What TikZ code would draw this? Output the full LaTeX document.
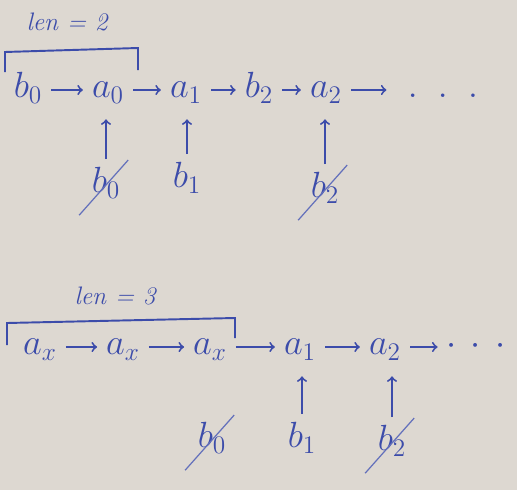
\documentclass[tikz,border=0pt]{standalone}
\usepackage{tikz}
\usetikzlibrary{calc}
\usetikzlibrary{arrows}
\definecolor{paper}{RGB}{221,216,209}
\definecolor{ink}{RGB}{60,76,170}
\tikzset{
    elem/.style={text=ink, font=\huge, inner sep=3pt, text height=14pt, text depth=5pt},
    link/.style={draw=ink, line width=1.1pt, ->, >=to, shorten <=2pt, shorten >=2pt},
    up/.style={draw=ink, line width=1.1pt, ->, >=to, shorten <=2pt, shorten >=4pt},
    strike/.style={draw=ink!80, line width=0.7pt, shorten <=-6pt, shorten >=-2pt},
    bracket/.style={draw=ink, line width=1.1pt},
    lenlabel/.style={text=ink, font=\Large\itshape}
}

\begin{document}
\begin{tikzpicture}[x=0.02cm, y=-0.02cm]
            \fill[paper] (0,0) rectangle (517,490);
            \useasboundingbox (0,0) rectangle (517,490);
            % first chain
            \node[lenlabel] (len2) at (67,22) {len = 2};
            \draw[bracket] (5,72) -- (5,52) -- (138,48) -- (138,70);
            \node[elem] (b0) at (28,90) {$b_0$};
            \node[elem] (a0) at (108,90) {$a_0$};
            \node[elem] (a1) at (186,90) {$a_1$};
            \node[elem] (b2) at (259,90) {$b_2$};
            \node[elem] (a2) at (326,90) {$a_2$};
            \node[elem] (more1) at (443,90) {$.\;\;.\;\;.$};
            \draw[link] (b0) -- (a0);
            \draw[link] (a0) -- (a1);
            \draw[link] (a1) -- (b2);
            \draw[link] (b2) -- (a2);
            \draw[link, shorten >=9pt] (a2) -- (more1);
            \node[elem] (pb0) at (106,185) {$b_0$};
            \node[elem] (pb1) at (187,180) {$b_1$};
            \node[elem] (pb2) at (325,190) {$b_2$};
            \draw[up] (pb0.north) -- (pb0.north |- a0.south);
            \draw[up] (pb1.north) -- (pb1.north |- a1.south);
            \draw[up] (pb2.north) -- (pb2.north |- a2.south);
            \draw[strike] (pb0.south west) -- (pb0.north east);
            \draw[strike] (pb2.south west) -- (pb2.north east);
            % second chain
            \node[lenlabel] (len3) at (115,296) {len = 3};
            \draw[bracket] (7,345) -- (7,323) -- (235,318) -- (235,338);
            \node[elem] (xa) at (40,347) {$a_x$};
            \node[elem] (xb) at (123,347) {$a_x$};
            \node[elem] (xc) at (210,347) {$a_x$};
            \node[elem] (ca1) at (300,347) {$a_1$};
            \node[elem] (ca2) at (385,347) {$a_2$};
            \node[elem] (more2) at (476,347) {$\cdot\,\cdot\,\cdot$};
            \draw[link] (xa) -- (xb);
            \draw[link] (xb) -- (xc);
            \draw[link] (xc) -- (ca1);
            \draw[link] (ca1) -- (ca2);
            \draw[link] (ca2) -- (more2);
            \node[elem] (qb0) at (212,440) {$b_0$};
            \node[elem] (qb1) at (302,440) {$b_1$};
            \node[elem] (qb2) at (392,443) {$b_2$};
            \draw[up] (qb1.north) -- (qb1.north |- ca1.south);
            \draw[up] (qb2.north) -- (qb2.north |- ca2.south);
            \draw[strike] (qb0.south west) -- (qb0.north east);
            \draw[strike] (qb2.south west) -- (qb2.north east);
        \end{tikzpicture}
\end{document}
